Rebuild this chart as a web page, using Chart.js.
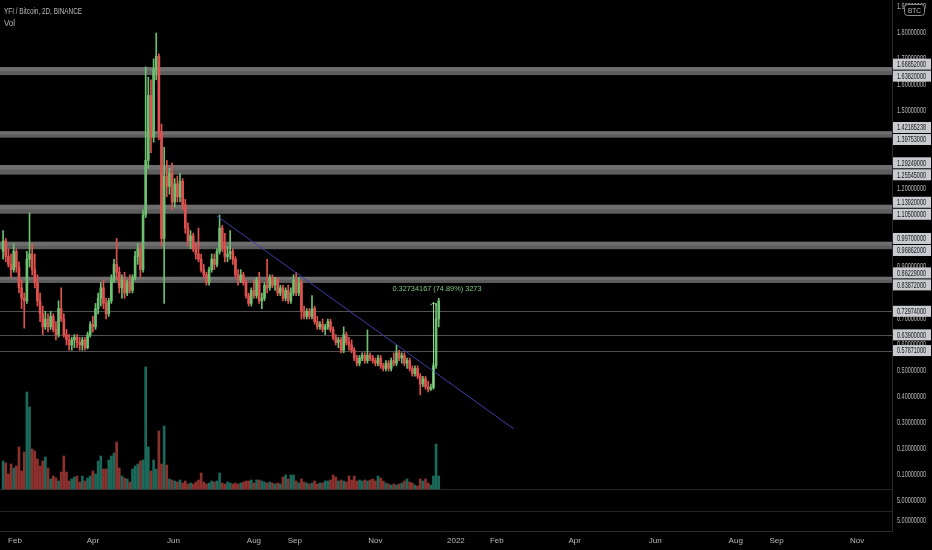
<!DOCTYPE html>
<html>
<head>
<meta charset="utf-8">
<title>YFI / Bitcoin, 2D, BINANCE</title>
<script src="https://cdn.jsdelivr.net/npm/chart.js@4.4.1/dist/chart.umd.min.js"></script>
<style>
  html, body { margin: 0; padding: 0; background: #000; }
  canvas { display: block; }
</style>
</head>
<body>
<canvas id="chart" width="932" height="550"></canvas>
<script>
// 2D candles, first one on 23 Jan 2021
const firstCandle = '2021-01-23';
const stepDays = 2;

const opens = [
  0.96, 1.00, 0.94, 0.91, 0.89, 0.96, 0.90, 0.82, 0.78, 0.77,
  0.93, 0.95, 0.89, 0.84, 0.77, 0.72, 0.67, 0.70, 0.67, 0.71,
  0.66, 0.64, 0.74, 0.70, 0.64, 0.62, 0.60, 0.62, 0.63, 0.61,
  0.60, 0.62, 0.59, 0.64, 0.68, 0.67, 0.74, 0.78, 0.82, 0.76,
  0.72, 0.77, 0.85, 0.91, 0.88, 0.82, 0.85, 0.80, 0.84, 0.81,
  0.86, 0.94, 0.97, 0.89, 1.10, 1.31, 1.56, 1.40, 1.66, 1.71,
  1.42, 1.01, 1.25, 1.21, 1.26, 1.15, 1.22, 1.17, 1.23, 1.14,
  1.05, 1.00, 1.02, 0.97, 0.95, 0.93, 0.89, 0.87, 0.84, 0.89,
  0.93, 0.91, 0.96, 1.05, 0.98, 0.94, 0.95, 0.96, 0.93, 0.87,
  0.85, 0.87, 0.84, 0.79, 0.76, 0.81, 0.79, 0.85, 0.77, 0.78,
  0.83, 0.82, 0.86, 0.83, 0.85, 0.80, 0.82, 0.78, 0.81, 0.77,
  0.80, 0.85, 0.80, 0.84, 0.73, 0.71, 0.73, 0.71, 0.74, 0.69,
  0.67, 0.68, 0.66, 0.67, 0.69, 0.66, 0.63, 0.61, 0.62, 0.58,
  0.64, 0.61, 0.60, 0.58, 0.55, 0.53, 0.55, 0.56, 0.54, 0.56,
  0.55, 0.54, 0.53, 0.55, 0.52, 0.51, 0.53, 0.51, 0.54, 0.53,
  0.57, 0.55, 0.56, 0.53, 0.54, 0.51, 0.49, 0.51, 0.48, 0.45,
  0.47, 0.44, 0.43, 0.437, 0.52, 0.70
];
const highs = [
  1.04, 1.01, 0.97, 0.95, 0.99, 0.97, 0.92, 0.85, 0.80, 0.96,
  1.108, 0.99, 0.95, 0.87, 0.80, 0.75, 0.73, 0.72, 0.73, 0.72,
  0.69, 0.77, 0.82, 0.72, 0.66, 0.64, 0.63, 0.64, 0.64, 0.63,
  0.63, 0.63, 0.65, 0.69, 0.71, 0.76, 0.80, 0.84, 0.85, 0.78,
  0.78, 0.87, 0.93, 1.01, 0.90, 0.87, 0.88, 0.85, 0.87, 0.87,
  0.96, 0.99, 0.99, 1.12, 1.67, 1.63, 1.62, 1.70, 1.80, 1.72,
  1.45, 1.36, 1.31, 1.28, 1.30, 1.24, 1.25, 1.26, 1.24, 1.16,
  1.07, 1.04, 1.03, 0.99, 1.05, 0.95, 0.91, 0.88, 0.90, 0.95,
  0.95, 0.97, 1.10, 1.06, 1.03, 0.98, 1.04, 0.97, 0.94, 0.89,
  0.89, 0.88, 0.85, 0.80, 0.82, 0.85, 0.86, 0.88, 0.80, 0.84,
  0.93, 0.87, 0.87, 0.86, 0.86, 0.83, 0.83, 0.82, 0.83, 0.82,
  0.87, 0.88, 0.86, 0.85, 0.75, 0.74, 0.74, 0.79, 0.75, 0.71,
  0.69, 0.70, 0.68, 0.70, 0.70, 0.67, 0.64, 0.63, 0.63, 0.67,
  0.65, 0.63, 0.62, 0.59, 0.56, 0.56, 0.57, 0.57, 0.658, 0.57,
  0.56, 0.55, 0.56, 0.56, 0.53, 0.54, 0.54, 0.55, 0.57, 0.60,
  0.58, 0.57, 0.57, 0.55, 0.55, 0.52, 0.52, 0.52, 0.49, 0.48,
  0.48, 0.46, 0.45, 0.53, 0.76, 0.78
];
const lows = [
  0.93, 0.92, 0.90, 0.86, 0.88, 0.88, 0.80, 0.74, 0.665, 0.76,
  0.90, 0.87, 0.82, 0.75, 0.69, 0.64, 0.66, 0.65, 0.66, 0.65,
  0.62, 0.63, 0.69, 0.63, 0.60, 0.58, 0.58, 0.59, 0.59, 0.58,
  0.58, 0.58, 0.585, 0.63, 0.65, 0.66, 0.72, 0.75, 0.74, 0.70,
  0.71, 0.76, 0.84, 0.85, 0.80, 0.78, 0.78, 0.79, 0.80, 0.80,
  0.85, 0.91, 0.86, 0.88, 1.09, 1.28, 1.34, 1.38, 1.62, 1.39,
  0.98, 0.76, 1.17, 1.18, 1.12, 1.13, 1.15, 1.15, 1.12, 1.03,
  0.98, 0.97, 0.96, 0.93, 0.92, 0.88, 0.86, 0.83, 0.83, 0.88,
  0.89, 0.90, 0.95, 0.96, 0.92, 0.92, 0.93, 0.91, 0.86, 0.83,
  0.84, 0.83, 0.78, 0.75, 0.75, 0.78, 0.78, 0.76, 0.74, 0.77,
  0.80, 0.81, 0.82, 0.81, 0.79, 0.79, 0.77, 0.77, 0.76, 0.76,
  0.79, 0.79, 0.79, 0.70, 0.70, 0.70, 0.70, 0.70, 0.68, 0.66,
  0.66, 0.65, 0.64, 0.66, 0.65, 0.62, 0.60, 0.59, 0.57, 0.57,
  0.60, 0.58, 0.57, 0.54, 0.52, 0.52, 0.54, 0.53, 0.53, 0.54,
  0.53, 0.52, 0.52, 0.51, 0.50, 0.50, 0.50, 0.50, 0.52, 0.52,
  0.54, 0.53, 0.52, 0.51, 0.50, 0.48, 0.48, 0.47, 0.408, 0.44,
  0.43, 0.42, 0.425, 0.43, 0.51, 0.67
];
const closes = [
  1.00, 0.94, 0.91, 0.89, 0.96, 0.90, 0.82, 0.78, 0.77, 0.93,
  0.95, 0.89, 0.84, 0.77, 0.72, 0.67, 0.70, 0.67, 0.71, 0.66,
  0.64, 0.74, 0.70, 0.64, 0.62, 0.60, 0.62, 0.63, 0.61, 0.60,
  0.62, 0.59, 0.64, 0.68, 0.67, 0.74, 0.78, 0.82, 0.76, 0.72,
  0.77, 0.85, 0.91, 0.88, 0.82, 0.85, 0.80, 0.84, 0.81, 0.86,
  0.94, 0.97, 0.89, 1.10, 1.31, 1.56, 1.40, 1.66, 1.71, 1.42,
  1.01, 1.25, 1.21, 1.26, 1.15, 1.22, 1.17, 1.23, 1.14, 1.05,
  1.00, 1.02, 0.97, 0.95, 0.93, 0.89, 0.87, 0.84, 0.89, 0.93,
  0.91, 0.96, 1.05, 0.98, 0.94, 0.95, 0.96, 0.93, 0.87, 0.85,
  0.87, 0.84, 0.79, 0.76, 0.81, 0.79, 0.85, 0.77, 0.78, 0.83,
  0.82, 0.86, 0.83, 0.85, 0.80, 0.82, 0.78, 0.81, 0.77, 0.80,
  0.85, 0.80, 0.84, 0.73, 0.71, 0.73, 0.71, 0.74, 0.69, 0.67,
  0.68, 0.66, 0.67, 0.69, 0.66, 0.63, 0.61, 0.62, 0.58, 0.64,
  0.61, 0.60, 0.58, 0.55, 0.53, 0.55, 0.56, 0.54, 0.56, 0.55,
  0.54, 0.53, 0.55, 0.52, 0.51, 0.53, 0.51, 0.54, 0.53, 0.57,
  0.55, 0.56, 0.53, 0.54, 0.51, 0.49, 0.51, 0.48, 0.45, 0.47,
  0.44, 0.43, 0.437, 0.52, 0.70, 0.77
];
const volumes = [
  28, 26, 15, 25, 21, 23, 42, 18, 37, 97,
  82, 40, 38, 30, 23, 28, 32, 21, 10, 13,
  11, 8, 17, 33, 17, 8, 10, 12, 13, 7,
  13, 8, 11, 13, 18, 15, 28, 33, 20, 20,
  29, 33, 36, 47, 21, 13, 11, 10, 7, 20,
  23, 25, 28, 29, 122, 42, 18, 29, 20, 58,
  25, 63, 24, 10, 9, 8, 7, 9, 6, 8,
  5, 6, 5, 7, 9, 16, 7, 5, 6, 8,
  7, 8, 16, 6, 5, 7, 6, 5, 6, 5,
  6, 7, 8, 8, 9, 6, 9, 9, 8, 7,
  6, 7, 6, 5, 6, 5, 12, 14, 10, 14,
  14, 8, 6, 10, 7, 6, 5, 6, 8, 5,
  6, 6, 8, 8, 9, 14, 12, 8, 9, 8,
  7, 13, 9, 13, 8, 9, 8, 9, 8, 9,
  10, 8, 13, 11, 8, 6, 5, 4, 5, 4,
  5, 6, 8, 10, 7, 6, 4, 3, 10, 8,
  10, 6, 4, 13, 45, 13
];

// time axis
const tickDates = ['2021-02-01', '2021-04-01', '2021-06-01', '2021-08-01', '2021-09-01', '2021-11-01',
  '2022-01-01', '2022-02-01', '2022-04-01', '2022-06-01', '2022-08-01', '2022-09-01', '2022-11-01'];
const tickNames = ['Feb', 'Apr', 'Jun', 'Aug', 'Sep', 'Nov', '2022', 'Feb', 'Apr', 'Jun', 'Aug', 'Sep', 'Nov'];

// price axis
const priceTicks = [1.9, 1.8, 1.7, 1.6, 1.5, 1.2, 0.9, 0.7, 0.6, 0.5, 0.4, 0.3, 0.2, 0.1, 0.0, -0.075];
const priceTickLabels = ['1.90000000', '1.80000000', '1.70000000', '1.60000000', '1.50000000', '1.20000000',
  '0.90000000', '0.70000000', '0.60000000', '0.50000000', '0.40000000', '0.30000000', '0.20000000',
  '0.10000000', '5.00000000', '5.00000000'];

// drawn zones and levels
const zones = [[1.66852, 1.6382], [1.42185238, 1.39753], [1.29249, 1.25545], [1.1392, 1.105], [0.997, 0.96862], [0.86229, 0.83872]];
const zoneLabels = [['1.66852000', '1.63820000'], ['1.42185238', '1.39753000'], ['1.29249000', '1.25545000'],
  ['1.13920000', '1.10500000'], ['0.99700000', '0.96862000'], ['0.86229000', '0.83872000']];
const levels = [0.72974, 0.639, 0.57871];
const levelLabels = ['0.72974000', '0.63900000', '0.57871000'];

const trendStart = ['2021-07-04', 1.096];
const trendEnd = ['2022-02-14', 0.277];
const measureDate = '2021-12-15';
const measureLow = 0.43706;
const measureHigh = 0.7644;
const measureText = '0.32734167 (74.89%) 3273';

const UP = '#6cc070';
const DOWN = '#e0524f';
const TEXT = '#b8b8b8';
const FONT = "'Liberation Sans', Arial, sans-serif";

const dayOf = s => (Date.parse(s) - Date.parse('2021-02-01')) / 86400000;
const candleDays = opens.map((_, i) => dayOf(firstCandle) + i * stepDays);
const isUp = opens.map((o, i) => closes[i] >= o);

// draws text squeezed horizontally into the given width, left aligned
function narrowText(c, text, x, y, width) {
  const w = c.measureText(text).width;
  const sx = Math.min(1, width / w);
  c.save();
  c.translate(x, y);
  c.scale(sx, 1);
  c.fillText(text, 0, 0);
  c.restore();
}

const overlay = {
  id: 'overlay',
  beforeDraw(chart) {
    const c = chart.ctx;
    c.save();
    c.fillStyle = '#000';
    c.fillRect(0, 0, chart.width, chart.height);
    c.restore();
  },
  beforeDatasetsDraw(chart) {
    const c = chart.ctx, y = chart.scales.y, v = chart.scales.v, a = chart.chartArea;
    c.save();
    zones.forEach(([hi, lo]) => {
      const y1 = y.getPixelForValue(hi), y2 = y.getPixelForValue(lo);
      c.fillStyle = '#5d5d5d';
      c.fillRect(a.left, y1, a.right - a.left, y2 - y1);
      c.fillStyle = '#6e6e6e';
      c.fillRect(a.left, y1, a.right - a.left, (y2 - y1) / 2);
    });
    c.strokeStyle = '#505050';
    c.lineWidth = 1;
    levels.forEach(l => {
      const py = Math.round(y.getPixelForValue(l)) + 0.5;
      c.beginPath(); c.moveTo(a.left, py); c.lineTo(a.right, py); c.stroke();
    });
    // volume pane lines
    c.strokeStyle = '#262626';
    [0, -22].forEach(val => {
      const py = Math.round(v.getPixelForValue(val)) + 0.5;
      c.beginPath(); c.moveTo(a.left, py); c.lineTo(a.right, py); c.stroke();
    });
    c.restore();
  },
  afterDraw(chart) {
    const c = chart.ctx, y = chart.scales.y, x = chart.scales.x, a = chart.chartArea;
    c.save();
    c.textBaseline = 'middle';
    c.textAlign = 'left';

    // price axis labels
    c.font = '8.5px ' + FONT;
    c.fillStyle = TEXT;
    priceTicks.forEach((p, i) => narrowText(c, priceTickLabels[i], a.right + 5, y.getPixelForValue(p), 29));

    // price labels of the drawn zones
    const boxH = 11;
    const drawBox = (py, label) => {
      c.fillStyle = '#c8cacf';
      c.fillRect(a.right + 1, py - boxH / 2, 38, boxH);
      c.fillStyle = '#161616';
      narrowText(c, label, a.right + 5, py + 0.5, 29);
    };
    zones.forEach(([hi, lo], i) => {
      let p1 = y.getPixelForValue(hi), p2 = y.getPixelForValue(lo);
      if (p2 - p1 < boxH + 1) {
        const mid = (p1 + p2) / 2 - 1;
        p1 = mid - (boxH + 1) / 2;
        p2 = mid + (boxH + 1) / 2;
      }
      drawBox(p1, zoneLabels[i][0]);
      drawBox(p2, zoneLabels[i][1]);
    });
    levels.forEach((l, i) => drawBox(y.getPixelForValue(l), levelLabels[i]));

    // currency badge
    c.strokeStyle = '#8a8a8a';
    c.lineWidth = 1;
    c.beginPath();
    c.roundRect(904.5, 4.5, 20, 11, 3);
    c.fillStyle = '#000';
    c.fill();
    c.stroke();
    c.fillStyle = TEXT;
    c.font = '7.5px ' + FONT;
    narrowText(c, 'BTC', 908, 10.5, 13);

    // legend texts
    c.textBaseline = 'alphabetic';
    c.font = '9.5px ' + FONT;
    c.fillStyle = TEXT;
    narrowText(c, 'YFI / Bitcoin, 2D, BINANCE', 4, 14, 78);
    narrowText(c, 'Vol', 4, 26, 11);

    // measure arrow
    const mx = Math.round(x.getPixelForValue(dayOf(measureDate))) + 0.5;
    const yLo = y.getPixelForValue(measureLow), yHi = y.getPixelForValue(measureHigh);
    c.strokeStyle = '#8fd88f';
    c.lineWidth = 1;
    c.beginPath();
    c.moveTo(mx, yLo); c.lineTo(mx, yHi);
    c.moveTo(mx - 3, yHi + 3); c.lineTo(mx, yHi); c.lineTo(mx + 3, yHi + 3);
    c.stroke();
    c.fillStyle = '#7cc97c';
    c.font = '7.5px ' + FONT;
    narrowText(c, measureText, mx - 41, yHi - 11, 89);
    c.restore();
  }
};

new Chart(document.getElementById('chart'), {
  type: 'bar',
  data: {
    datasets: [
      {
        label: 'Volume',
        yAxisID: 'v',
        data: candleDays.map((d, i) => ({ x: d, y: volumes[i] })),
        backgroundColor: isUp.map(u => u ? 'rgba(38,150,130,0.7)' : 'rgba(200,70,65,0.7)'),
        barThickness: 2,
        grouped: false,
        order: 3
      },
      {
        label: 'Wick',
        yAxisID: 'y',
        data: candleDays.map((d, i) => ({ x: d, y: [lows[i], highs[i]] })),
        backgroundColor: isUp.map(u => u ? UP : DOWN),
        barThickness: 1,
        grouped: false,
        order: 2
      },
      {
        label: 'Body',
        yAxisID: 'y',
        data: candleDays.map((d, i) => ({ x: d, y: [opens[i], closes[i]] })),
        backgroundColor: isUp.map(u => u ? UP : DOWN),
        barThickness: 2,
        minBarLength: 1,
        grouped: false,
        order: 1
      },
      {
        type: 'line',
        label: 'Trend',
        yAxisID: 'y',
        data: [{ x: dayOf(trendStart[0]), y: trendStart[1] }, { x: dayOf(trendEnd[0]), y: trendEnd[1] }],
        borderColor: '#3d3fa6',
        borderWidth: 1,
        pointRadius: 0,
        order: 0
      }
    ]
  },
  options: {
    responsive: false,
    animation: false,
    layout: { padding: 0 },
    plugins: { legend: { display: false }, tooltip: { enabled: false } },
    scales: {
      x: {
        type: 'linear',
        min: -15 / 1.32,
        max: -15 / 1.32 + 892 / 1.32,
        offset: false,
        grid: { display: false, drawTicks: false },
        border: { color: '#2b2b2b' },
        afterBuildTicks: s => { s.ticks = tickDates.map(d => ({ value: dayOf(d) })); },
        afterFit: s => { s.height = 19; },
        ticks: {
          autoSkip: false,
          maxRotation: 0,
          padding: 5,
          color: TEXT,
          font: { size: 8, family: FONT },
          callback: (val, i) => tickNames[i]
        }
      },
      y: {
        position: 'right',
        min: 1.927 - 531 / 260,
        max: 1.927,
        grid: { display: false, drawTicks: false },
        border: { color: '#2b2b2b' },
        afterBuildTicks: s => { s.ticks = priceTicks.map(p => ({ value: p })); },
        afterFit: s => { s.width = 40; },
        ticks: { display: false }
      },
      v: {
        display: false,
        min: -42,
        max: 489
      }
    }
  },
  plugins: [overlay]
});
</script>
</body>
</html>
